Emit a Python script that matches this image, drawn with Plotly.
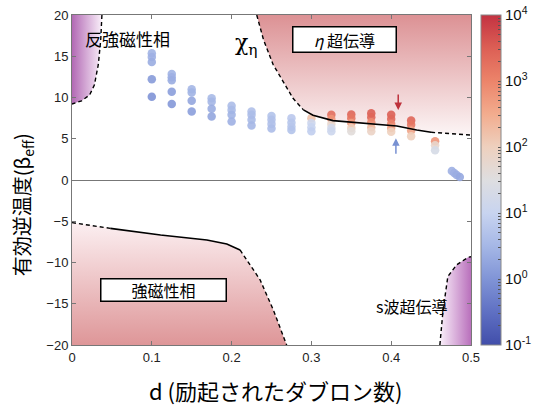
import numpy as np
import plotly.graph_objects as go

# ---------------- data ----------------
d_cols = [0.1, 0.125, 0.15, 0.175, 0.2, 0.225, 0.25, 0.275,
          0.3, 0.325, 0.35, 0.375, 0.4, 0.425, 0.455]
beta_cols = [
    [15.35, 14.9, 14.3, 12.2, 10.1],
    [12.85, 12.45, 12.1, 10.7, 9.2],
    [11.0, 10.6, 9.6, 8.3],
    [9.9, 9.5, 8.65, 7.7],
    [9.0, 8.5, 7.9, 7.1],
    [8.3, 7.9, 7.3, 6.6],
    [7.75, 7.3, 6.8, 6.25],
    [7.5, 6.95, 6.45, 6.05],
    [7.5, 6.9, 6.4, 5.9],
    [7.9, 7.4, 6.8, 6.3, 5.9],
    [7.95, 7.5, 6.9, 6.3, 5.9],
    [8.1, 7.6, 7.0, 6.4, 5.9],
    [7.9, 7.4, 6.8, 6.3, 5.85],
    [7.2, 6.7, 6.0, 5.3],
    [4.7, 4.2, 3.6],
]
logchi_cols = [
    [0.45, 0.4, 0.35, 0.1, 0.0],
    [0.45, 0.4, 0.35, 0.15, 0.05],
    [0.5, 0.45, 0.25, 0.15],
    [0.55, 0.5, 0.35, 0.25],
    [0.6, 0.55, 0.45, 0.4],
    [0.65, 0.6, 0.55, 0.5],
    [0.7, 0.65, 0.65, 0.6],
    [0.8, 0.75, 0.75, 0.7],
    [2.2, 1.1, 1.0, 0.9],
    [3.3, 2.8, 1.8, 1.2, 1.1],
    [3.4, 3.2, 2.7, 2.0, 1.6],
    [3.5, 3.4, 2.9, 2.3, 1.9],
    [3.5, 3.4, 3.0, 2.6, 2.0],
    [3.4, 3.2, 2.6, 2.0],
    [2.8, 1.8, 1.3],
]
d_tail = [0.476, 0.479, 0.482, 0.486]
beta_tail = [1.1, 0.85, 0.6, 0.35]
logchi_tail = [0.4, 0.4, 0.35, 0.3]

# phase boundaries
afm_d = [0.0375, 0.036, 0.033, 0.028, 0.022, 0.012, 0.0]
afm_beta = [20, 17, 14, 11.5, 10.3, 9.6, 9.2]

eta_dash1_d = [0.2315, 0.24, 0.252, 0.265, 0.277, 0.29]
eta_dash1_b = [20, 17, 14, 11.9, 9.9, 8.5]
eta_solid_d = [0.29, 0.302, 0.327, 0.357, 0.386, 0.407, 0.432, 0.45]
eta_solid_b = [8.5, 7.85, 7.2, 6.95, 6.75, 6.55, 6.06, 5.78]
eta_dash2_d = [0.45, 0.475, 0.5]
eta_dash2_b = [5.78, 5.6, 5.45]

fm_dash1_d = [0.0, 0.025, 0.048]
fm_dash1_b = [-5.17, -5.5, -5.86]
fm_solid_d = [0.048, 0.08, 0.111, 0.14, 0.169, 0.194, 0.2106]
fm_solid_b = [-5.86, -6.3, -6.67, -6.97, -7.27, -7.76, -8.48]
fm_dash2_d = [0.2106, 0.2357, 0.2523, 0.269]
fm_dash2_b = [-8.48, -12.1, -15.76, -20]

sw_d = [0.461, 0.465, 0.471, 0.4818, 0.4963, 0.5]
sw_b = [-20, -15.76, -11.7, -10.3, -9.37, -9.3]

x_ticks = [0, 0.1, 0.2, 0.3, 0.4, 0.5]
x_ticklabels = ["0", "0.1", "0.2", "0.3", "0.4", "0.5"]
y_ticks = [-20, -15, -10, -5, 0, 5, 10, 15, 20]

XMIN, XMAX, YMIN, YMAX = 0, 0.5, -20, 20

cscale = [
    [0.0, "rgb(65,78,170)"], [0.1, "rgb(95,112,195)"], [0.2, "rgb(128,148,214)"],
    [0.3, "rgb(165,183,230)"], [0.4, "rgb(200,212,240)"], [0.5, "rgb(222,222,224)"],
    [0.6, "rgb(238,208,190)"], [0.7, "rgb(242,172,142)"], [0.8, "rgb(236,132,106)"],
    [0.9, "rgb(220,95,85)"], [1.0, "rgb(195,50,65)"],
]

fig = go.Figure()

# ---- shaded phase regions ----
fig.add_trace(go.Scatter(
    x=afm_d + [XMIN, XMIN], y=afm_beta + [YMAX, YMAX], fill="toself", mode="none",
    fillgradient=dict(type="horizontal", start=0, stop=afm_d[0],
                      colorscale=[[0, "rgb(178,105,180)"], [1, "rgba(250,240,250,1)"]]),
    hoverinfo="skip", showlegend=False))

eta_d = eta_dash1_d + eta_solid_d[1:] + eta_dash2_d[1:]
eta_b = eta_dash1_b + eta_solid_b[1:] + eta_dash2_b[1:]
fig.add_trace(go.Scatter(
    x=eta_d + [XMAX], y=eta_b + [YMAX], fill="toself", mode="none",
    fillgradient=dict(type="vertical", start=4, stop=20,
                      colorscale=[[0, "rgb(255,255,255)"], [1, "rgb(220,145,148)"]]),
    hoverinfo="skip", showlegend=False))

fm_d = fm_dash1_d + fm_solid_d[1:] + fm_dash2_d[1:]
fm_b = fm_dash1_b + fm_solid_b[1:] + fm_dash2_b[1:]
fig.add_trace(go.Scatter(
    x=fm_d + [XMIN], y=fm_b + [YMIN], fill="toself", mode="none",
    fillgradient=dict(type="vertical", start=-20, stop=-5,
                      colorscale=[[0, "rgb(222,150,152)"], [1, "rgb(252,240,242)"]]),
    hoverinfo="skip", showlegend=False))

fig.add_trace(go.Scatter(
    x=sw_d + [XMAX], y=sw_b + [YMIN], fill="toself", mode="none",
    fillgradient=dict(type="horizontal", start=sw_d[0], stop=0.5,
                      colorscale=[[0, "rgba(250,240,250,1)"], [1, "rgb(185,112,188)"]]),
    hoverinfo="skip", showlegend=False))

# ---- data points ----
pts_d, pts_b, pts_c = [], [], []
for d, bs, cs in zip(d_cols, beta_cols, logchi_cols):
    for b, c in zip(bs, cs):
        pts_d.append(d); pts_b.append(b); pts_c.append(c)
pts_d += d_tail; pts_b += beta_tail; pts_c += logchi_tail

cb_tickvals = []
cb_ticktext = []
for e in range(-1, 4):
    for k in range(1, 10):
        cb_tickvals.append(e + np.log10(k))
        cb_ticktext.append(f"10<sup>{e}</sup>" if k == 1 else "")
cb_tickvals.append(4); cb_ticktext.append("10<sup>4</sup>")

fig.add_trace(go.Scatter(
    x=pts_d, y=pts_b, mode="markers",
    marker=dict(size=8.5, color=pts_c, colorscale=cscale, cmin=-1, cmax=4, opacity=0.9,
                line=dict(width=0),
                colorbar=dict(x=1.025, xanchor="left", xpad=0, y=0.5, yanchor="middle",
                              len=1, lenmode="fraction", thickness=20, ypad=0,
                              outlinewidth=1, outlinecolor="#888",
                              tickvals=cb_tickvals, ticktext=cb_ticktext,
                              ticks="inside", ticklen=3, tickcolor="#555",
                              tickfont=dict(size=15, color="#111", family="Liberation Sans, Arial"))),
    showlegend=False, hoverinfo="skip"))

# ---- boundary lines ----
def line(xs, ys, dash):
    fig.add_trace(go.Scatter(x=xs, y=ys, mode="lines",
                             line=dict(color="black", width=1.6 if dash == "solid" else 1.4,
                                       dash="solid" if dash == "solid" else "4px,3px"),
                             showlegend=False, hoverinfo="skip"))

line(afm_d, afm_beta, "dash")
line(eta_dash1_d, eta_dash1_b, "dash")
line(eta_solid_d, eta_solid_b, "solid")
line(eta_dash2_d, eta_dash2_b, "dash")
line(fm_dash1_d, fm_dash1_b, "dash")
line(fm_solid_d, fm_solid_b, "solid")
line(fm_dash2_d, fm_dash2_b, "dash")
line(sw_d, sw_b, "dash")

jp = "Noto Sans CJK JP"
annotations = [
    dict(x=0.069, y=17.2, text="反強磁性相", showarrow=False,
         font=dict(size=17, family=jp, color="black")),
    dict(x=0.341, y=17.0, text="<i>η</i> 超伝導", showarrow=False, width=100, height=22,
         bgcolor="white", bordercolor="black", borderwidth=1.5,
         font=dict(size=16, family=jp, color="black")),
    dict(x=0.219, y=16.4, text="χ<sub>η</sub>", showarrow=False,
         font=dict(size=22, family="DejaVu Serif", color="black")),
    dict(x=0.1149, y=-13.33, text="強磁性相", showarrow=False, width=122, height=19,
         bgcolor="white", bordercolor="black", borderwidth=1.5,
         font=dict(size=16, family=jp, color="black")),
    dict(x=0.426, y=-15.27, text="s波超伝導", showarrow=False,
         font=dict(size=16, family=jp, color="black")),
    dict(x=0.4088, y=8.48, text="", showarrow=True, ax=0, ay=-17,
         arrowcolor="rgb(190,50,60)", arrowhead=2, arrowsize=1, arrowwidth=1.5),
    dict(x=0.4059, y=5.05, text="", showarrow=True, ax=0, ay=17,
         arrowcolor="rgb(120,145,210)", arrowhead=2, arrowsize=1, arrowwidth=1.5),
    dict(xref="paper", yref="paper", x=0.51, y=-0.135, yanchor="middle",
         text="d (励起されたダブロン数)", showarrow=False,
         font=dict(size=22, family=jp, color="black")),
    dict(xref="paper", yref="paper", x=-0.125, y=0.424, xanchor="center", yanchor="middle",
         textangle=-90, text="有効逆温度(β<sub>eff</sub>)", showarrow=False,
         font=dict(size=20, family=jp, color="black")),
]

axis_common = dict(showgrid=False, showline=True, linecolor="#777", linewidth=1, mirror="ticks",
                   ticks="inside", ticklen=4, tickcolor="#777",
                   tickfont=dict(size=13, color="#222", family="Liberation Sans, Arial"))

fig.update_layout(
    width=544, height=407,
    margin=dict(l=72, r=73, t=15, b=62, autoexpand=False),
    paper_bgcolor="white", plot_bgcolor="white",
    xaxis=dict(range=[XMIN, XMAX], tickvals=x_ticks, ticktext=x_ticklabels, zeroline=False,
               **axis_common),
    yaxis=dict(range=[YMIN, YMAX], tickvals=y_ticks, zeroline=True, zerolinecolor="#777",
               zerolinewidth=1, **axis_common),
    annotations=annotations,
)

# remove the browser's default 8 px page margin so the figure sits at the window's corner
fig.write_html("out.html", config={"displayModeBar": False},
               post_script="document.body.style.margin='0';")
